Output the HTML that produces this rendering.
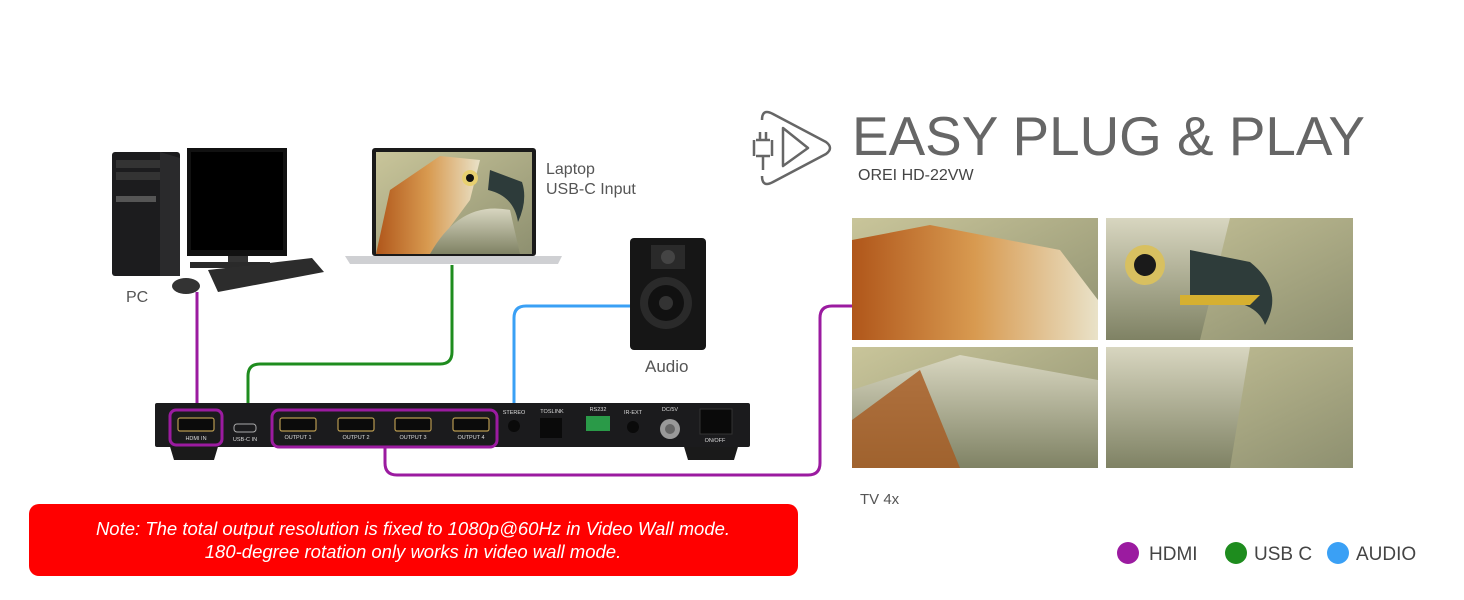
<!DOCTYPE html>
<html><head><meta charset="utf-8"><style>
html,body{margin:0;padding:0;background:#fff}
svg{display:block}
text{font-family:"Liberation Sans",sans-serif}
</style></head><body>
<svg width="1464" height="600" viewBox="0 0 1464 600" xmlns="http://www.w3.org/2000/svg">
<defs>
<linearGradient id="bg" x1="0" y1="0" x2="1" y2="1"><stop offset="0" stop-color="#c9c59a"/><stop offset="1" stop-color="#8e9070"/></linearGradient>
<linearGradient id="fe" x1="0" y1="0" x2="1" y2="0"><stop offset="0" stop-color="#b0561a"/><stop offset="0.5" stop-color="#d89a50"/><stop offset="1" stop-color="#e9e2c8"/></linearGradient>
<linearGradient id="wh" x1="0" y1="0" x2="0" y2="1"><stop offset="0" stop-color="#d8d6c0"/><stop offset="1" stop-color="#7f8264"/></linearGradient>
</defs>
<!-- connectors -->
<g fill="none" stroke-width="3">
<path d="M197 292 V404" stroke="#9b1ba0"/>
<path d="M452 265 V352 Q452 364 440 364 H260 Q248 364 248 376 V404" stroke="#1e8c1e"/>
<path d="M514 404 V318 Q514 306 526 306 H632" stroke="#3aa0f5"/>
<path d="M385 447 V463 Q385 475 397 475 H808 Q820 475 820 463 V318 Q820 306 832 306 H852" stroke="#9b1ba0"/>
</g>
<!-- PC -->
<rect x="112" y="152" width="68" height="124" rx="3" fill="#1c1c1e"/>
<rect x="116" y="160" width="44" height="8" fill="#333"/><rect x="116" y="172" width="44" height="8" fill="#333"/>
<rect x="116" y="196" width="40" height="6" fill="#555"/>
<path d="M160 152 L180 158 V276 L160 276Z" fill="#2a2a2c"/>
<rect x="187" y="148" width="100" height="108" fill="#111"/><rect x="191" y="152" width="92" height="98" fill="#000"/>
<rect x="228" y="256" width="20" height="8" fill="#333"/><rect x="190" y="262" width="80" height="6" fill="#2a2a2a"/>
<path d="M208 270 L312 258 L324 272 L218 292 Z" fill="#2c2c2c"/>
<ellipse cx="186" cy="286" rx="14" ry="8" fill="#333"/>
<text x="126" y="302" font-size="16" fill="#555">PC</text>
<!-- Laptop -->
<rect x="372" y="148" width="164" height="108" rx="3" fill="#1a1a1a"/>
<rect x="376" y="152" width="156" height="102" fill="url(#bg)"/>
<path d="M376 254 L390 190 L440 156 L480 160 L470 200 L430 254Z" fill="url(#fe)"/>
<path d="M430 254 Q460 200 510 210 L520 254Z" fill="url(#wh)"/>
<circle cx="470" cy="178" r="8" fill="#e8d070"/><circle cx="470" cy="178" r="4" fill="#111"/>
<path d="M490 170 L522 182 Q528 200 518 222 Q514 196 488 190Z" fill="#2d3b3a"/>
<path d="M345 256 H562 L558 264 H350Z" fill="#cfd0d3"/>
<text x="546" y="174" font-size="16" fill="#555">Laptop</text>
<text x="546" y="194" font-size="16" fill="#555">USB-C Input</text>
<!-- speaker -->
<rect x="630" y="238" width="76" height="112" rx="4" fill="#161616"/>
<rect x="651" y="245" width="34" height="24" fill="#2a2a2a"/><circle cx="668" cy="257" r="7" fill="#444"/>
<circle cx="666" cy="303" r="26" fill="#2a2a2a"/><circle cx="666" cy="303" r="18" fill="#111"/><circle cx="666" cy="303" r="7" fill="#333"/>
<text x="645" y="372" font-size="17" fill="#555">Audio</text>
<!-- device -->
<path d="M168 440 H220 L214 460 H174Z M682 440 H740 L734 460 H688Z" fill="#1a1a1a"/>
<rect x="155" y="403" width="595" height="44" rx="2" fill="#1b1b1d"/>
<g fill="#0b0b0b" stroke="#b89a50" stroke-width="1.2">
<rect x="178" y="418" width="36" height="13" rx="2"/>
<rect x="280" y="418" width="36" height="13" rx="2"/><rect x="338" y="418" width="36" height="13" rx="2"/>
<rect x="395" y="418" width="36" height="13" rx="2"/><rect x="453" y="418" width="36" height="13" rx="2"/>
</g>
<rect x="234" y="424" width="22" height="8" rx="3" fill="none" stroke="#aaa"/>
<g fill="#ddd" font-size="5.5" text-anchor="middle">
<text x="196" y="440">HDMI IN</text><text x="245" y="441">USB-C IN</text>
<text x="298" y="439">OUTPUT 1</text><text x="356" y="439">OUTPUT 2</text><text x="413" y="439">OUTPUT 3</text><text x="471" y="439">OUTPUT 4</text>
<text x="514" y="414">STEREO</text><text x="552" y="413">TOSLINK</text><text x="598" y="411">RS232</text><text x="633" y="414">IR-EXT</text><text x="670" y="411">DC/5V</text><text x="715" y="442">ON/OFF</text>
</g>
<circle cx="514" cy="426" r="6" fill="#0a0a0a"/><rect x="540" y="418" width="22" height="20" fill="#0a0a0a"/>
<rect x="586" y="416" width="24" height="15" fill="#2a9a48"/><circle cx="633" cy="427" r="6" fill="#0a0a0a"/>
<circle cx="670" cy="429" r="10" fill="#999"/><circle cx="670" cy="429" r="5" fill="#666"/>
<rect x="700" y="409" width="32" height="25" fill="#0a0a0a" stroke="#333"/>
<g fill="none" stroke="#9b1ba0" stroke-width="3">
<rect x="170" y="410" width="52" height="35" rx="6"/>
<rect x="272" y="410" width="225" height="37" rx="7"/>
</g>
<!-- title -->
<g fill="none" stroke="#666" stroke-width="2.5" stroke-linejoin="round">
<path d="M762 120 Q762 108 773 114 L826 142 Q834 148 826 154 L773 182 Q762 188 762 176"/>
<path d="M783 128 L808 148 L783 166Z"/>
<path d="M756 140 H770 M756 156 H770 M760 132 V140 M766 132 V140 M763 156 V170 M754 140 V156 M772 140 V156"/>
</g>
<text x="852" y="155" font-size="55" fill="#666" textLength="513" lengthAdjust="spacingAndGlyphs">EASY PLUG &amp; PLAY</text>
<text x="858" y="180" font-size="16" fill="#444">OREI HD-22VW</text>
<!-- wall -->
<rect x="852" y="218" width="246" height="122" fill="url(#bg)"/>
<path d="M852 240 L930 225 L1060 250 L1098 300 L1098 340 L852 340Z" fill="url(#fe)"/>
<rect x="1106" y="218" width="247" height="122" fill="url(#bg)"/>
<path d="M1106 218 H1230 L1200 340 H1106Z" fill="url(#wh)"/>
<circle cx="1145" cy="265" r="20" fill="#d8c060"/><circle cx="1145" cy="265" r="11" fill="#1a1a1a"/>
<path d="M1190 250 L1250 262 Q1285 290 1265 325 Q1255 295 1190 300Z" fill="#2e3c3a"/>
<path d="M1180 295 H1260 L1250 305 H1180Z" fill="#d6b030"/>
<rect x="852" y="347" width="246" height="121" fill="url(#bg)"/>
<path d="M852 390 L960 355 L1098 380 L1098 468 L852 468Z" fill="url(#wh)"/>
<path d="M852 420 L920 370 L960 468 H852Z" fill="#a85a20" opacity="0.8"/>
<rect x="1106" y="347" width="247" height="121" fill="url(#bg)"/>
<path d="M1106 347 H1250 L1230 468 H1106Z" fill="url(#wh)"/>
<text x="860" y="504" font-size="15" fill="#555">TV 4x</text>
<!-- note -->
<rect x="29" y="504" width="769" height="72" rx="10" fill="#ff0000"/>
<g fill="#fff" font-size="18.5" font-style="italic" text-anchor="middle">
<text x="413" y="535">Note: The total output resolution is fixed to 1080p@60Hz in Video Wall mode.</text>
<text x="413" y="558">180-degree rotation only works in video wall mode.</text>
</g>
<!-- legend -->
<circle cx="1128" cy="553" r="11" fill="#9b1ba0"/><text x="1149" y="560" font-size="19" fill="#444">HDMI</text>
<circle cx="1236" cy="553" r="11" fill="#1e8c1e"/><text x="1254" y="560" font-size="19" fill="#444">USB C</text>
<circle cx="1338" cy="553" r="11" fill="#3aa0f5"/><text x="1356" y="560" font-size="19" fill="#444">AUDIO</text>
</svg>
</body></html>
